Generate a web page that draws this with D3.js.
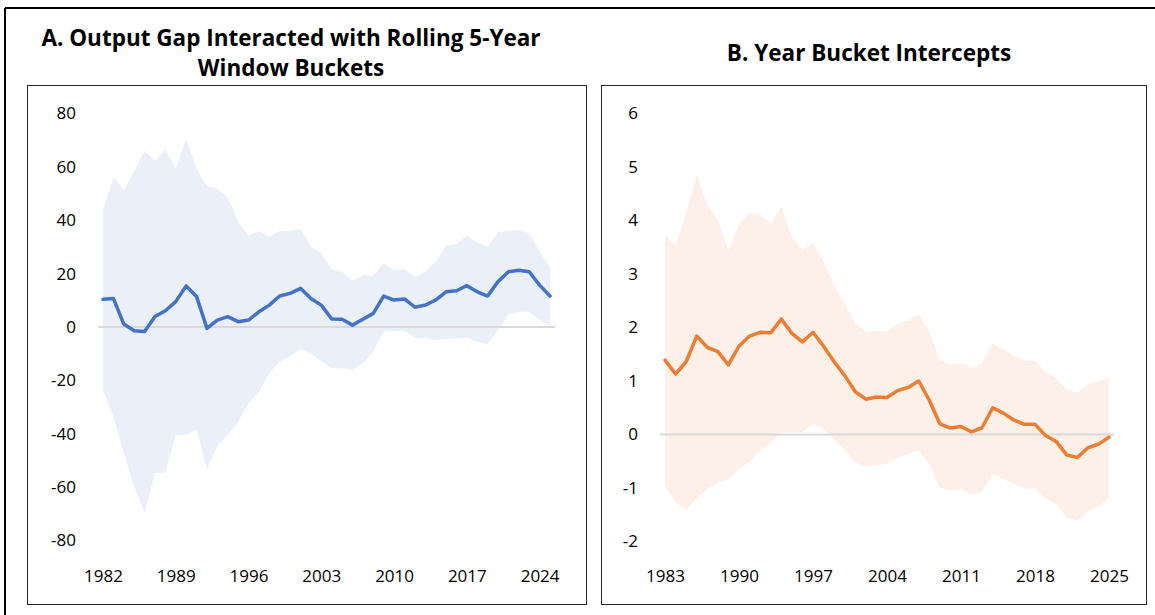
<!DOCTYPE html>
<html>
<head>
<meta charset="utf-8">
<script src="https://cdn.jsdelivr.net/npm/d3@7"></script>
<style>
  body { margin: 0; background: #fff; }
  text { font-family: "Open Sans", "Noto Sans", sans-serif; }
</style>
</head>
<body>
<svg id="chart" width="1155" height="615"></svg>
<script>
// panel A: output gap x rolling 5-year window buckets
const yearsA = [1982,1983,1984,1985,1986,1987,1988,1989,1990,1991,1992,1993,1994,1995,1996,1997,1998,1999,2000,2001,2002,2003,2004,2005,2006,2007,2008,2009,2010,2011,2012,2013,2014,2015,2016,2017,2018,2019,2020,2021,2022,2023,2024,2025];
const gapCoef = [10.4,10.7,1.1,-1.4,-1.7,3.9,6.1,9.5,15.4,11.4,-0.5,2.6,3.9,2.0,2.6,5.7,8.2,11.6,12.6,14.5,10.7,8.2,3.0,2.9,0.7,2.9,5.1,11.6,10.1,10.5,7.4,8.2,10.1,13.2,13.6,15.5,13.2,11.6,17.0,20.7,21.3,20.7,15.7,11.6];
const gapUpper = [44.1,56.1,51.3,58.2,66.0,62.2,66.3,59.4,70.4,59.4,52.9,51.7,48.6,39.4,34.2,36.0,33.8,36.0,36.0,36.7,30.3,27.6,21.6,20.7,17.3,19.5,19.2,24.1,21.3,21.6,18.6,20.7,24.5,30.4,31.1,34.2,31.7,30.1,35.5,36.1,36.3,35.1,28.2,22.8];
const gapLower = [-23.3,-33.6,-47.3,-59.8,-69.8,-54.6,-54.6,-40.4,-40.4,-38.3,-53.3,-44.8,-40.4,-35.5,-28.6,-24.2,-17.3,-13.0,-11.1,-8.4,-9.9,-12.7,-15.5,-15.5,-15.9,-13.6,-9.2,-1.7,-1.4,-1.4,-3.9,-4.2,-4.9,-4.5,-4.2,-4.0,-5.5,-6.5,-1.1,4.9,5.7,5.7,2.6,0.7];
const yTicksA = [-80,-60,-40,-20,0,20,40,60,80];
const xTicksA = [1982,1989,1996,2003,2010,2017,2024];

// panel B: year bucket intercepts
const yearsB = [1983,1984,1985,1986,1987,1988,1989,1990,1991,1992,1993,1994,1995,1996,1997,1998,1999,2000,2001,2002,2003,2004,2005,2006,2007,2008,2009,2010,2011,2012,2013,2014,2015,2016,2017,2018,2019,2020,2021,2022,2023,2024,2025];
const interceptCoef = [1.39,1.13,1.36,1.84,1.63,1.55,1.30,1.65,1.84,1.91,1.90,2.16,1.89,1.73,1.91,1.65,1.36,1.10,0.80,0.66,0.70,0.69,0.82,0.88,1.00,0.64,0.20,0.12,0.15,0.05,0.13,0.50,0.40,0.27,0.19,0.19,-0.02,-0.13,-0.38,-0.43,-0.25,-0.18,-0.05];
const interceptUpper = [3.71,3.54,4.13,4.85,4.29,4.01,3.44,3.93,4.13,4.12,3.93,4.26,3.70,3.44,3.59,3.23,2.79,2.45,2.07,1.92,1.94,1.93,2.07,2.13,2.25,1.92,1.39,1.32,1.34,1.24,1.34,1.70,1.59,1.47,1.38,1.38,1.17,1.05,0.84,0.78,0.94,0.99,1.07];
const interceptLower = [-0.96,-1.27,-1.41,-1.19,-1.02,-0.90,-0.84,-0.65,-0.51,-0.32,-0.15,0.04,0.04,0.04,0.20,0.10,-0.09,-0.29,-0.53,-0.60,-0.57,-0.55,-0.43,-0.36,-0.29,-0.57,-0.99,-1.06,-1.02,-1.12,-1.07,-0.74,-0.83,-0.93,-1.01,-1.01,-1.19,-1.30,-1.55,-1.61,-1.44,-1.35,-1.19];
const yTicksB = [-2,-1,0,1,2,3,4,5,6];
const xTicksB = [1983,1990,1997,2004,2011,2018,2025];

const svg = d3.select('#chart');
svg.append('rect').attr('width', 1155).attr('height', 615).attr('fill', '#fff');

// outer frame (only left + top edges visible)
svg.append('line').attr('x1', 5).attr('y1', 8).attr('x2', 5).attr('y2', 615)
  .attr('stroke', '#000').attr('stroke-width', 2);
svg.append('line').attr('x1', 5).attr('y1', 8).attr('x2', 1155).attr('y2', 8)
  .attr('stroke', '#000').attr('stroke-width', 2);

function drawPanel(p) {
  const g = svg.append('g');

  g.append('rect')
    .attr('x', p.box[0] + 0.5).attr('y', p.box[1] + 0.5)
    .attr('width', p.box[2]).attr('height', p.box[3])
    .attr('fill', 'none').attr('stroke', '#262626').attr('stroke-width', 1);

  const x = d3.scalePoint().domain(p.years).range(p.xRange);
  const y = d3.scaleLinear().domain(p.yDomain).range(p.yRange);

  const idx = p.years.map((d, i) => i);

  // confidence band
  g.append('path')
    .datum(idx)
    .attr('fill', p.band)
    .attr('d', d3.area()
      .x(i => x(p.years[i]))
      .y0(i => y(p.lower[i]))
      .y1(i => y(p.upper[i])));

  // zero line
  g.append('line')
    .attr('x1', p.zeroX[0]).attr('x2', p.zeroX[1])
    .attr('y1', y(0)).attr('y2', y(0))
    .attr('stroke', '#d9d9d9').attr('stroke-width', 2);

  g.append('path')
    .datum(idx)
    .attr('fill', 'none')
    .attr('stroke', p.color)
    .attr('stroke-width', 3.5)
    .attr('stroke-linejoin', 'round')
    .attr('stroke-linecap', 'round')
    .attr('d', d3.line()
      .x(i => x(p.years[i]))
      .y(i => y(p.coef[i])));

  // y axis (plain hyphen for negatives, like the original)
  const ya = g.append('g')
    .attr('transform', `translate(${p.zeroX[0]},0)`)
    .call(d3.axisLeft(y).tickValues(p.yTicks).tickSize(0).tickPadding(22)
      .tickFormat(d => String(d)));
  ya.select('.domain').remove();

  // x axis
  const xa = g.append('g')
    .attr('transform', 'translate(0,562)')
    .call(d3.axisBottom(x).tickValues(p.xTicks).tickSize(0).tickPadding(8));
  xa.select('.domain').remove();

  g.selectAll('.tick text')
    .attr('font-family', '"Open Sans", sans-serif')
    .attr('font-size', 17)
    .attr('fill', '#000');

  // title
  p.title.forEach((t, k) => {
    g.append('text')
      .attr('x', p.titleX).attr('y', p.titleY + k * 30)
      .attr('text-anchor', 'middle')
      .attr('font-size', 22.5).attr('font-weight', 700)
      .attr('fill', '#000')
      .text(t);
  });
}

drawPanel({
  years: yearsA, coef: gapCoef, upper: gapUpper, lower: gapLower,
  yTicks: yTicksA, xTicks: xTicksA,
  box: [27, 85, 559, 519],
  xRange: [103, 550], yDomain: [-80, 80], yRange: [540.5, 113.5],
  zeroX: [98, 555],
  color: '#4472c4', band: '#eaeff8',
  title: ['A. Output Gap Interacted with Rolling 5-Year', 'Window Buckets'],
  titleX: 291, titleY: 46
});

drawPanel({
  years: yearsB, coef: interceptCoef, upper: interceptUpper, lower: interceptLower,
  yTicks: yTicksB, xTicks: xTicksB,
  box: [601, 85, 545, 519],
  xRange: [665, 1109], yDomain: [-2, 6], yRange: [541.5, 113.5],
  zeroX: [660, 1114],
  color: '#ed7d31', band: '#fcf0e9',
  title: ['B. Year Bucket Intercepts'],
  titleX: 869, titleY: 61
});
</script>
</body>
</html>
